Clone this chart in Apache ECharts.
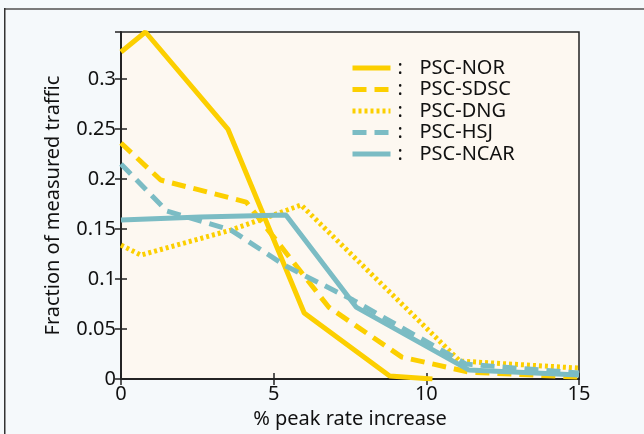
<!DOCTYPE html>
<html><head><meta charset="utf-8">
<script src="https://cdn.jsdelivr.net/npm/echarts@6/dist/echarts.min.js"></script>
<style>html,body{margin:0;padding:0;background:#f5f9fb;}#c{width:644px;height:434px;}</style>
</head><body><div id="c"></div>
<script>
// Data (x = % peak rate increase, y = fraction of measured traffic)
const seriesNames = ['PSC-NOR','PSC-SDSC','PSC-DNG','PSC-HSJ','PSC-NCAR'];
const norData  = [[0,0.327],[0.8,0.347],[3.5,0.250],[6.0,0.066],[8.8,0.003],[10.2,0.0]];
const sdscData = [[0,0.236],[1.3,0.199],[4.1,0.177],[6.8,0.072],[9.2,0.022],[11.4,0.007],[15,0.002]];
const dngData  = [[0,0.134],[0.65,0.124],[3.6,0.149],[5.9,0.174],[11.1,0.018],[15,0.011]];
const hsjData  = [[0,0.215],[1.5,0.168],[3.6,0.149],[5.4,0.113],[7.6,0.079],[11.3,0.015],[15,0.006]];
const ncarData = [[0,0.159],[2.6,0.162],[5.4,0.164],[7.7,0.072],[11.4,0.009],[15,0.004]];
const xTicks = [0,5,10,15];
const yTicks = [0,0.05,0.1,0.15,0.2,0.25,0.3];

const YEL = '#fccf00', TEAL = '#7bbcc4';
const font = 'Noto Sans';
function mk(name, data, color, type){
  return {name, type:'line', data, showSymbol:false, symbol:'none', clip:true,
    lineStyle:{color, width:5, type, cap:'butt'}, itemStyle:{color}, z:3};
}
const chart = echarts.init(document.getElementById('c'));
const axisCommon = {axisLine:{show:true,lineStyle:{color:'#222',width:1.5}},
  axisTick:{show:true,inside:true,length:6,lineStyle:{color:'#222',width:1.5}},
  splitLine:{show:false}};
chart.setOption({
  backgroundColor:'#f5f9fb',
  textStyle:{fontFamily:font},
  graphic:[
    {type:'rect',shape:{x:4,y:8,width:640,height:2},style:{fill:'#7a7a7a'},z:10},
    {type:'rect',shape:{x:4,y:8,width:1.5,height:426},style:{fill:'#333'},z:10}
  ],
  grid:{left:121,right:65,top:32,bottom:50,show:true,backgroundColor:'#fdf8f1',borderColor:'#222',borderWidth:1.5},
  legend:{orient:'vertical',left:345,top:53,itemWidth:38,itemHeight:14,itemGap:1.5,
    data:seriesNames,
    itemStyle:{opacity:0},
    lineStyle:{width:5},
    formatter:n=>'{a|:}{b|'+n+'}',
    textStyle:{fontSize:20,color:'#111',fontFamily:font,lineHeight:20,
      rich:{a:{width:22,padding:[0,0,0,2],fontSize:20,color:'#111'},b:{fontSize:20,color:'#111'}}}},
  xAxis:[
    Object.assign({type:'value',min:0,max:15,interval:5,position:'bottom',
      name:'% peak rate increase',nameLocation:'middle',nameGap:26,
      nameTextStyle:{fontSize:20,color:'#111',fontFamily:font},
      axisLabel:{fontSize:20,color:'#111',margin:5,fontFamily:font}},axisCommon),
    Object.assign({type:'value',min:0,max:15,interval:5,position:'top',axisLabel:{show:false}},axisCommon)
  ],
  yAxis:[
    Object.assign({type:'value',min:0,max:0.347,interval:0.05,position:'left',
      name:'Fraction of measured traffic',nameLocation:'middle',nameGap:58,
      nameTextStyle:{fontSize:20,color:'#111',fontFamily:font},
      axisLabel:{fontSize:20,color:'#111',margin:5,showMaxLabel:false,fontFamily:font,
        formatter:v=>yTicks.indexOf(Math.round(v*100)/100)>=0?String(Math.round(v*100)/100):''}},axisCommon),
    Object.assign({type:'value',min:0,max:0.347,interval:0.05,position:'right',axisLabel:{show:false}},axisCommon)
  ],
  series:[
    mk('PSC-NOR',norData,YEL,'solid'),
    mk('PSC-SDSC',sdscData,YEL,[14,8]),
    mk('PSC-DNG',dngData,YEL,[3,3]),
    mk('PSC-HSJ',hsjData,TEAL,[14,8]),
    mk('PSC-NCAR',ncarData,TEAL,'solid')
  ]
});
</script></body></html>
